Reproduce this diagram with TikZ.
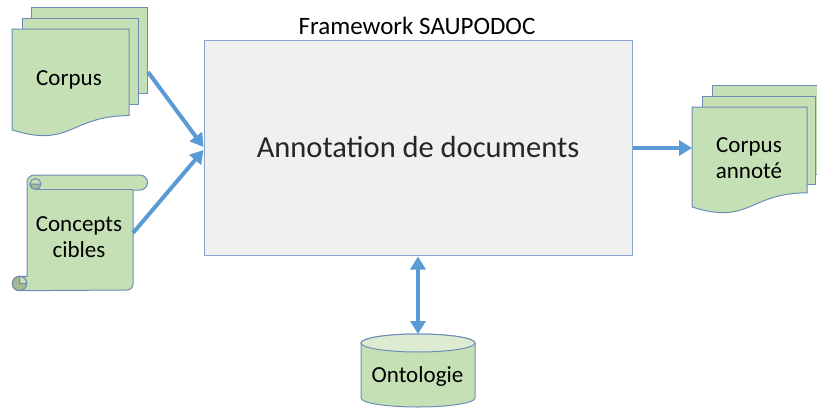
\documentclass[tikz,border=0pt]{standalone}
\usepackage{fontspec}
\setmainfont{Carlito}
\usetikzlibrary{arrows.meta}

\definecolor{docfill}{HTML}{C5E0B4}
\definecolor{docline}{HTML}{6D8DB8}
\definecolor{curlfill}{HTML}{A4BA93}
\definecolor{capfill}{HTML}{DDEBD3}
\definecolor{boxfill}{HTML}{F0F0F0}
\definecolor{boxline}{HTML}{8AA5CB}
\definecolor{flowblue}{HTML}{5B9BD5}
\definecolor{textgray}{HTML}{262626}

\tikzset{
  docsheet/.style={fill=docfill, draw=docline, line width=1pt},
  shapetext/.style={font=\fontsize{23}{26}\selectfont, inner sep=0pt, anchor=base, align=center, text=black},
  flow/.style={draw=flowblue, line width=4pt, -{Triangle[width=15pt,length=13pt]}},
  twoway/.style={draw=flowblue, line width=4pt, {Triangle[width=15pt,length=13pt]}-{Triangle[width=15pt,length=13pt]}},
}

% one page of a flowchart document: x, y (top left), width, height
\newcommand\docsheet[4]{%
  \filldraw[docsheet] (#1,#2) -- ({#1+#3},#2) -- ({#1+#3},{#2+0.802*#4})
    .. controls ({#1+0.5*#3},{#2+0.802*#4}) and ({#1+0.5*#3},{#2+1.107*#4}) ..
    (#1,{#2+0.934*#4}) -- cycle;}

\begin{document}
\begin{tikzpicture}[x=1pt, y=-1pt]
\useasboundingbox (0,0) rectangle (817,410);

% central process box
\node (frame) [draw=boxline, fill=boxfill, line width=1pt, minimum width=428pt, minimum height=215pt,
  inner sep=0pt, font=\fontsize{30.5}{34}\selectfont, text=textgray] at (418,147.5) {Annotation de documents};
\node (title) [font=\fontsize{25}{28}\selectfont, inner sep=0pt, anchor=base] at (417,34) {Framework SAUPODOC};

% input corpus (stack of documents)
\filldraw[docsheet] (31,7) rectangle (147,93);
\filldraw[docsheet] (22,18) rectangle (138,104);
\docsheet{12}{29}{117}{108}
\node (corpus) [shapetext] at (69,85) {Corpus};

% target concepts (scroll)
\filldraw[docsheet] (27,276.3) -- (27,182.5) arc[start angle=180, end angle=270, radius=7.5]
  -- (140,175) arc[start angle=270, end angle=450, radius=7.5] -- (133,190)
  -- (133,284) arc[start angle=0, end angle=90, radius=6]
  -- (19.5,290.7) arc[start angle=90, end angle=270, radius=7.2] -- cycle;
\draw[docline, line width=1pt] (35.5,189.5) -- (133,189.5);
\filldraw[fill=curlfill, draw=docline, line width=1pt] (30,184) arc[start angle=180, end angle=0, radius=5.5] -- cycle;
\draw[docline, line width=1pt] (35.5,189.5) arc[start angle=90, end angle=360, radius=5.5];
\filldraw[fill=curlfill, draw=docline, line width=1pt] (19.5,283.5) circle[radius=7.2];
\filldraw[fill=docfill, draw=docline, line width=1pt] (19.5,283.5) -- (19.5,276.3)
  arc[start angle=270, end angle=360, radius=7.2] -- cycle;
\node (concepts) [shapetext] at (79,257) {Concepts\\cibles};

% annotated corpus (stack of documents)
\filldraw[docsheet] (712,85) rectangle (825,174);
\filldraw[docsheet] (702,96) rectangle (815,184);
\docsheet{692}{107}{115}{107}
\node (annotated) [shapetext] at (749,178) {Corpus\\annoté};

% ontology (cylinder)
\filldraw[docsheet] (361,343) -- (361,398) arc[start angle=180, end angle=0, x radius=57, y radius=9]
  -- (475,343) arc[start angle=0, end angle=-180, x radius=57, y radius=9] -- cycle;
\filldraw[docsheet, fill=capfill] (418,343) ellipse[x radius=57, y radius=9];
\node (ontology) [shapetext] at (417.5,382) {Ontologie};

% connector end points on the shapes
\coordinate (corpusOut) at (148,72);
\coordinate (conceptsOut) at (133,233);
\coordinate (annotatedIn) at (692,148);
\coordinate (ontologyTop) at (418,334);

% connectors
\draw[flow] (corpusOut) -- ([yshift=0.5pt]frame.west);
\draw[flow] (conceptsOut) -- ([yshift=-2.5pt]frame.west);
\draw[flow] (frame.east |- annotatedIn) -- (annotatedIn);
\draw[twoway] ([yshift=-1pt]frame.south) -- (ontologyTop);
\end{tikzpicture}
\end{document}
